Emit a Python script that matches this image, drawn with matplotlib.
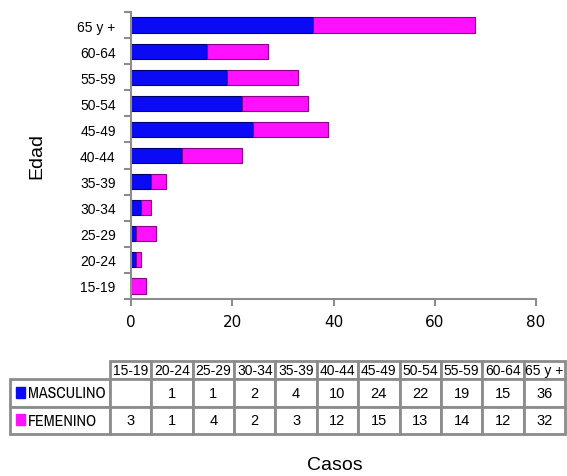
import matplotlib
matplotlib.use("Agg")
import matplotlib.pyplot as plt
from matplotlib.patches import Rectangle
from matplotlib.ticker import FixedLocator

plt.rcParams['font.family'] = ['Liberation Sans', 'DejaVu Sans']

grupos = ['15-19', '20-24', '25-29', '30-34', '35-39', '40-44',
          '45-49', '50-54', '55-59', '60-64', '65 y +']
masculino = [0, 1, 1, 2, 4, 10, 24, 22, 19, 15, 36]
femenino = [3, 1, 4, 2, 3, 12, 15, 13, 14, 12, 32]
masc_txt = ['', '1', '1', '2', '4', '10', '24', '22', '19', '15', '36']
fem_txt = ['3', '1', '4', '2', '3', '12', '15', '13', '14', '12', '32']

azul = '#0a0af5'
rosa = '#ff10ff'
gris = '#8c8c8c'

W, H = 567, 477
fig = plt.figure(figsize=(W / 100, H / 100), dpi=100)

# grafico de barras
ax = fig.add_axes([131 / W, 1 - 300 / H, (536 - 131) / W, (300 - 13) / H])
y = list(range(len(grupos)))
ax.barh(y, masculino, height=0.58, color=azul, edgecolor='#00006a', linewidth=0.8)
ax.barh(y, femenino, left=masculino, height=0.58, color=rosa,
        edgecolor='#8a008a', linewidth=0.8)

ax.set_xlim(0, 80)
ax.set_ylim(-0.5, len(grupos) - 0.5)
ax.set_xticks([0, 20, 40, 60, 80])
ax.set_xticklabels(['0', '20', '40', '60', '80'], family='DejaVu Sans')
ax.set_yticks(y)
ax.set_yticklabels(grupos)
ax.yaxis.set_minor_locator(FixedLocator([i - 0.5 for i in range(len(grupos) + 1)]))
ax.tick_params(axis='y', which='major', length=0, pad=11, labelsize=10)
ax.tick_params(axis='y', which='minor', length=5, color=gris, width=1.5)
ax.tick_params(axis='x', length=5, color=gris, width=1.5, labelsize=11, pad=6)
for s in ['top', 'right']:
    ax.spines[s].set_visible(False)
for s in ['left', 'bottom']:
    ax.spines[s].set_color(gris)
    ax.spines[s].set_linewidth(1.5)
ax.set_ylabel('Edad', fontsize=14, labelpad=23)

# tabla de datos
tax = fig.add_axes([10 / W, 1 - 435 / H, (565 - 10) / W, (435 - 362) / H])
tax.axis('off')
filas = [['MASCULINO'] + masc_txt, ['FEMENINO'] + fem_txt]
ancho_cols = [100] + [41.4] * len(grupos)
tabla = tax.table(cellText=filas, colLabels=[''] + grupos, colWidths=ancho_cols,
                  cellLoc='center', bbox=[0, 0, 1, 1])
tabla.auto_set_font_size(False)
for (r, c), cell in tabla.get_celld().items():
    cell.set_edgecolor(gris)
    cell.set_linewidth(2)
    cell.set_height(18 if r == 0 else 27.5)
    txt = cell.get_text()
    if r == 0:
        txt.set_fontsize(10)
    elif c == 0:
        txt.set_fontsize(11.5)
        txt.set_family('Archivo Narrow')
        txt.set_ha('left')
        cell.PAD = 0.18
    else:
        txt.set_fontsize(10.5)
    if r == 0 and c == 0:
        cell.visible_edges = ''
tax.add_patch(Rectangle((0.011, 0.50), 0.016, 0.15, transform=tax.transAxes,
                        color=azul, clip_on=False))
tax.add_patch(Rectangle((0.011, 0.12), 0.016, 0.15, transform=tax.transAxes,
                        color=rosa, clip_on=False))

fig.text(335 / W, 1 - 466 / H, 'Casos', ha='center', va='center', fontsize=14)

fig.savefig('out.png', dpi=100)
